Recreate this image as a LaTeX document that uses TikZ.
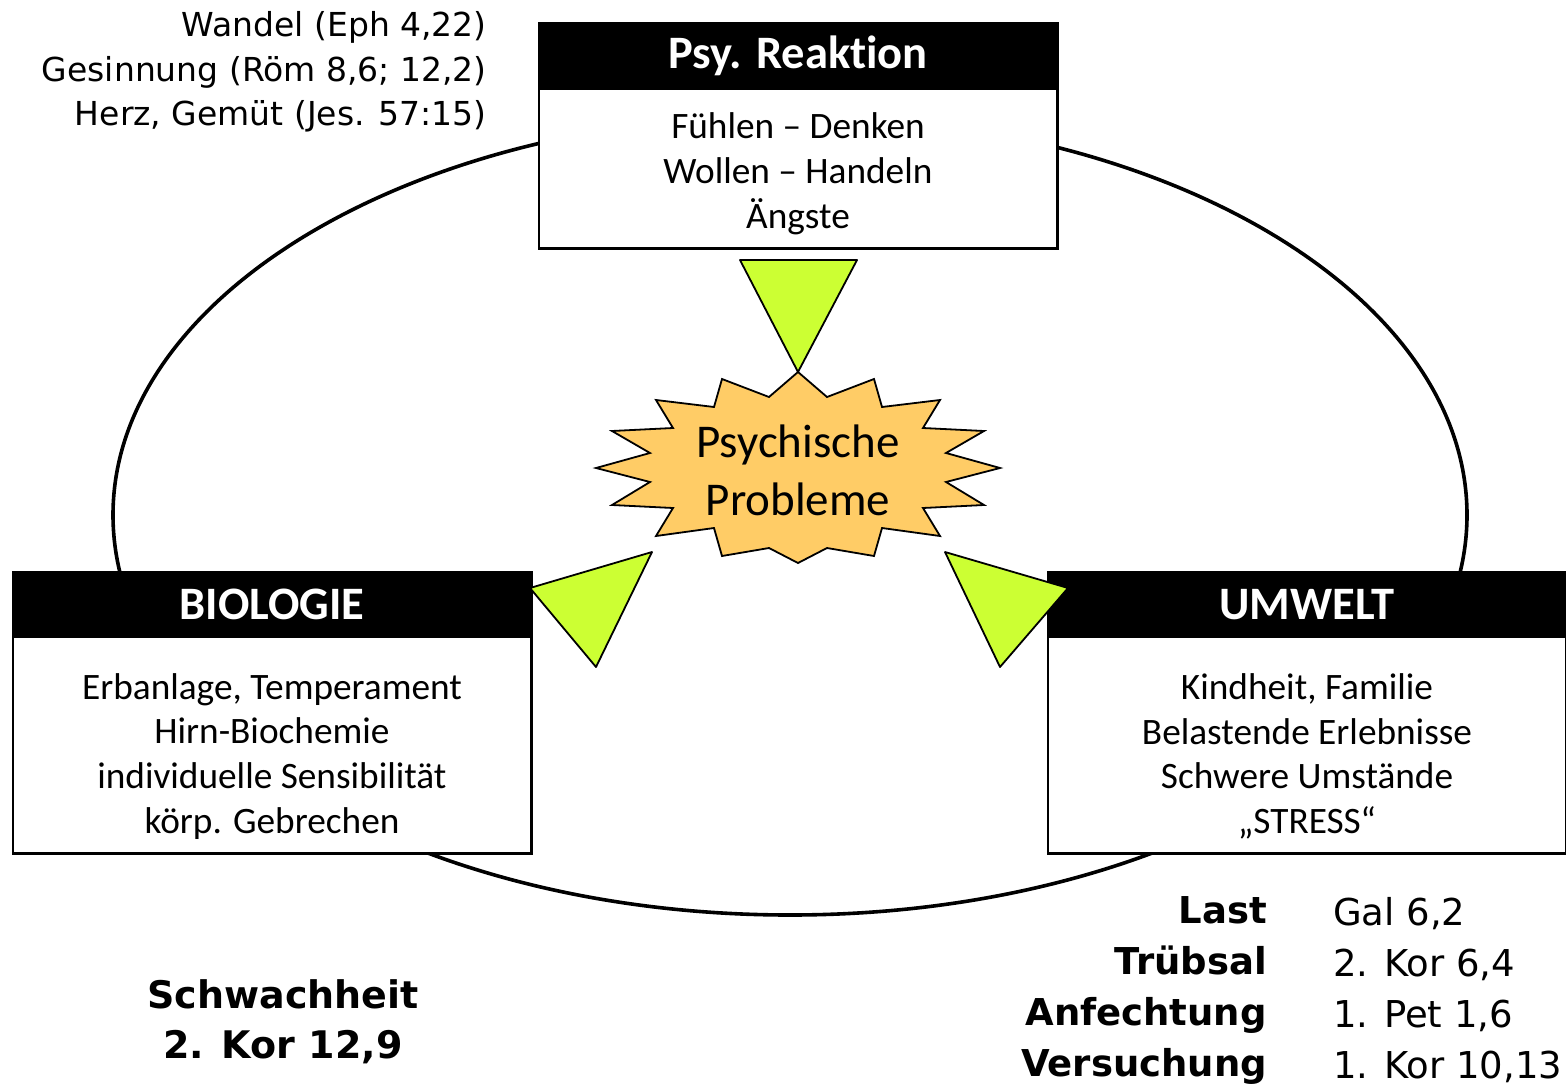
\documentclass[tikz,border=0pt]{standalone}
\usepackage{fontspec}
\setmainfont{Carlito}[Ligatures=NoCommon]
\newfontfamily\tahoma{DejaVu Sans}
\usepackage{tikz}
\usetikzlibrary{positioning,calc}
\definecolor{lime}{RGB}{204,255,51}
\definecolor{burst}{RGB}{255,204,102}
\newcommand{\fsz}[2]{\fontsize{#1}{#2}\selectfont}

\begin{document}
\begin{tikzpicture}[x=1pt,y=-1pt,
  hdr/.style={fill=black,text=white,minimum width=518pt,inner sep=0pt,anchor=north,font=\fsz{46.5}{52}\bfseries},
  bodybox/.style={draw,line width=1.6pt,fill=white,minimum width=518pt,inner sep=0pt,anchor=north},
  bodytxt/.style={align=center,inner sep=0pt,font=\fsz{37.3}{44.7}},
  wedge/.style={draw,line width=1.8pt,fill=lime,line join=round},
  ref/.style={inner sep=0pt,font=\tahoma\fsz{33}{44.5}}]
%
  \useasboundingbox (0,0) rectangle (1566,1087);
  \draw[line width=3.6pt] (790,515) ellipse [x radius=677pt, y radius=400pt];
%
%	boxes
  \node[hdr,minimum height=65pt] (psyH) at (798,23) {Psy. Reaktion};
  \node[bodybox,minimum height=159pt] (psyB) at (psyH.south) {};
  \node[bodytxt] (psyT) at ([yshift=-5pt]psyB.center) {Fühlen – Denken\\Wollen – Handeln\\Ängste};
  \draw[line width=1.6pt] (psyH.north west) rectangle (psyB.south east);
%
  \node[hdr,minimum height=64pt] (bioH) at (272,572) {BIOLOGIE};
  \node[bodybox,minimum height=216pt] (bioB) at (bioH.south) {};
  \node[bodytxt] (bioT) at ([yshift=-11pt]bioB.center) {Erbanlage, Temperament\\Hirn-Biochemie\\individuelle Sensibilität\\körp. Gebrechen};
  \draw[line width=1.6pt] (bioH.north west) rectangle (bioB.south east);
%
  \node[hdr,minimum height=64pt] (umwH) at (1307,572) {UMWELT};
  \node[bodybox,minimum height=216pt] (umwB) at (umwH.south) {};
  \node[bodytxt] (umwT) at ([yshift=-11pt]umwB.center) {Kindheit, Familie\\Belastende Erlebnisse\\Schwere Umstände\\„STRESS“};
  \draw[line width=1.6pt] (umwH.north west) rectangle (umwB.south east);
%
%	burst
  \draw[line width=1.8pt,fill=burst,line join=miter] (798,468)
    ++(0,-96) -- ++(29,25) -- ++(47,-18) -- ++(8,28) -- ++(58,-7) -- ++(-17,28)
    -- ++(61,3) -- ++(-38,22) -- ++(54,15) -- ++(-54,14) -- ++(38,23) -- ++(-61,3)
    -- ++(17,28) -- ++(-58,-8) -- ++(-8,28) -- ++(-47,-8) -- ++(-29,15) -- ++(-29,-15)
    -- ++(-47,8) -- ++(-8,-28) -- ++(-58,8) -- ++(17,-28) -- ++(-61,-3) -- ++(38,-23)
    -- ++(-54,-14) -- ++(54,-15) -- ++(-38,-22) -- ++(61,-3) -- ++(-17,-28) -- ++(58,7)
    -- ++(8,-28) -- ++(47,18) -- cycle;
  \node[align=center,inner sep=0pt,font=\fsz{47}{58}] (prob) at (798,470) {Psychische\\Probleme};
%
%	wedges
  \draw[wedge] (740,260) -- (857,260) -- (798,372) -- cycle;
  \draw[wedge] (652,552) -- (530,588) -- (596,667) -- cycle;
  \draw[wedge] (945,552) -- (1068,588) -- (1000,667) -- cycle;
%
%	references
  \node[ref,align=right,anchor=east] (walk) at (487,72) {Wandel (Eph 4,22)\\Gesinnung (Röm 8,6; 12,2)\\Herz, Gemüt (Jes. 57:15)};
  \node[ref,align=center,font=\tahoma\fsz{38}{50}\bfseries] (weak) at (283,1022) {Schwachheit\\2. Kor 12,9};
  \node[ref,align=right,anchor=east,font=\tahoma\fsz{37}{51}\bfseries] (trialL) at (1267,990) {Last\\Trübsal\\Anfechtung\\Versuchung};
  \node[ref,align=left,anchor=west,font=\tahoma\fsz{37}{51}] (trialR) at (1333,990) {Gal 6,2\\2. Kor 6,4\\1. Pet 1,6\\1. Kor 10,13};
\end{tikzpicture}
\end{document}
